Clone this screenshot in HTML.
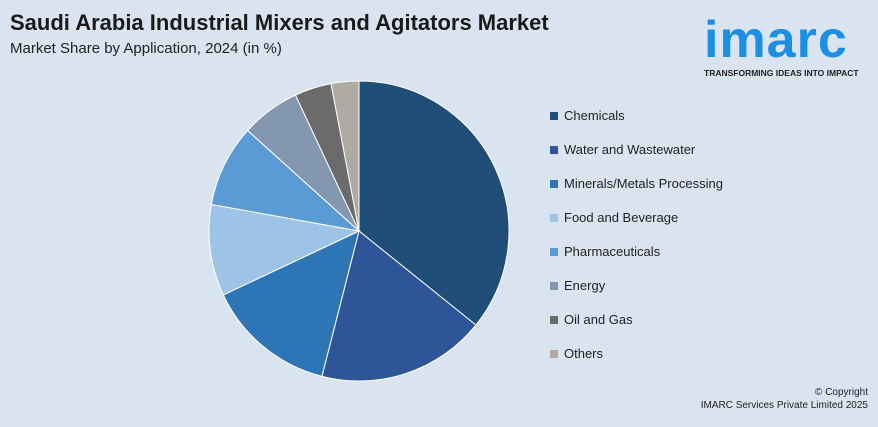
<!DOCTYPE html>
<html><head><meta charset="utf-8"><style>
body{margin:0;width:878px;height:427px;background:#dae4f1;font-family:"Liberation Sans",sans-serif;position:relative;overflow:hidden}
.t{position:absolute;left:10px;top:10px;font-size:22px;font-weight:bold;color:#1a1a1a}
.s{position:absolute;left:10px;top:40px;font-size:15px;color:#222}
.leg{position:absolute;left:550px;font-size:13px;color:#222}
.leg span{display:inline-block;width:8px;height:8px;margin-right:6px}
.c{position:absolute;right:10px;top:386px;font-size:10px;color:#222;text-align:right;line-height:13px}
</style></head><body>
<div class="t">Saudi Arabia Industrial Mixers and Agitators Market</div>
<div class="s">Market Share by Application, 2024 (in %)</div>
<div style="position:absolute;left:704px;top:14px;width:170px">
<div style="font-size:52px;font-weight:bold;color:#1a8fe3;letter-spacing:1px;line-height:52px">imarc</div>
<div style="font-size:8.5px;font-weight:bold;color:#222;margin-top:2px">TRANSFORMING IDEAS INTO IMPACT</div></div>
<svg id="pie" width="878" height="427" style="position:absolute;left:0;top:0"></svg>
<div id="legend"></div>
<div class="c">© Copyright<br>IMARC Services Private Limited 2025</div>
<script>
const categories=["Chemicals","Water and Wastewater","Minerals/Metals Processing","Food and Beverage","Pharmaceuticals","Energy","Oil and Gas","Others"];
const values=[36,18.3,14.1,9.9,8.9,6.4,4,3];
const colors=["#1f4e79","#2e5597","#2e75b6","#9dc3e6","#5b9bd5","#8497b0","#6b6b6b","#b0aaa5"];
const svg=document.getElementById('pie');const NS="http://www.w3.org/2000/svg";
const cx=359,cy=231,r=150;const tot=values.reduce((a,b)=>a+b,0);let a=0;
values.forEach((v,i)=>{const a2=a+v/tot*2*Math.PI;
const x1=cx+r*Math.sin(a),y1=cy-r*Math.cos(a),x2=cx+r*Math.sin(a2),y2=cy-r*Math.cos(a2);
const p=document.createElementNS(NS,'path');
p.setAttribute('d',`M${cx},${cy}L${x1},${y1}A${r},${r} 0 ${a2-a>Math.PI?1:0} 1 ${x2},${y2}Z`);
p.setAttribute('fill',colors[i]);p.setAttribute('stroke','#fff');p.setAttribute('stroke-width','1');


svg.appendChild(p);a=a2;});
const lg=document.getElementById('legend');
categories.forEach((c,i)=>{const d=document.createElement('div');d.className='leg';d.style.top=(108+i*34)+'px';


d.innerHTML=`<span style="background:${colors[i]}"></span>${c}`;lg.appendChild(d);});
</script></body></html>
